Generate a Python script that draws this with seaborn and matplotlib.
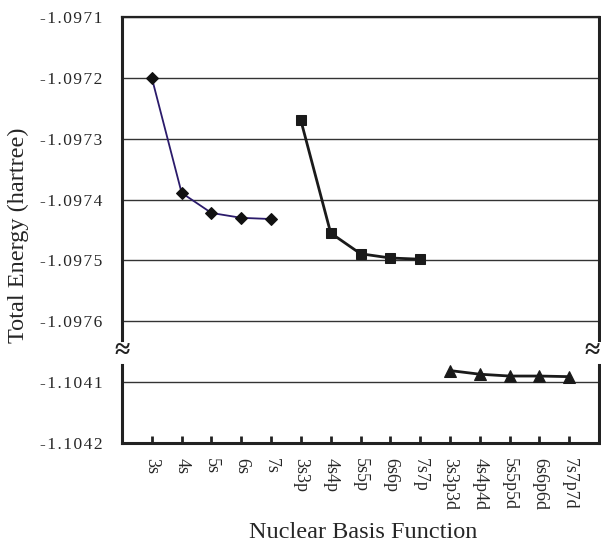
import matplotlib
matplotlib.use("Agg")
import matplotlib.pyplot as plt
import seaborn as sns
import pandas as pd

sns.set_theme(style="white")
plt.rcParams["font.family"] = ["Liberation Serif", "DejaVu Serif"]

# basis sets along the x axis
basis = ["3s", "4s", "5s", "6s", "7s",
         "3s3p", "4s4p", "5s5p", "6s6p", "7s7p",
         "3s3p3d", "4s4p4d", "5s5p5d", "6s6p6d", "7s7p7d"]

# total energies (hartree)
s_energy = [-1.097200, -1.097389, -1.097422, -1.097430, -1.097432]
sp_energy = [-1.097270, -1.097455, -1.097489, -1.097496, -1.097498]
spd_energy = [-1.104081, -1.104087, -1.104090, -1.104090, -1.104091]

upper_ticks = [-1.0976, -1.0975, -1.0974, -1.0973, -1.0972, -1.0971]
lower_ticks = [-1.1042, -1.1041]

pos = list(range(1, len(basis) + 1))
df = pd.DataFrame({
    "pos": pos,
    "basis": basis,
    "energy": s_energy + sp_energy + spd_energy,
    "group": ["s"] * 5 + ["sp"] * 5 + ["spd"] * 5,
})

HAIR = "\u200a"


def spaced(txt):
    # the original tick numbers use loose letter spacing
    return HAIR.join(txt)


fig = plt.figure(figsize=(6.01, 5.42), dpi=100)
gs = fig.add_gridspec(2, 1, height_ratios=[5.5, 1.5], hspace=0,
                      left=0.203, right=0.9967, top=0.9686, bottom=0.1827)
ax_top = fig.add_subplot(gs[0])
ax_bot = fig.add_subplot(gs[1], sharex=ax_top)

GRID = "#333333"
for ax, ticks in [(ax_top, upper_ticks), (ax_bot, lower_ticks)]:
    ax.set_yticks(ticks)
    ax.set_yticklabels([spaced(f"{t:.4f}") for t in ticks], fontsize=12.5)
    ax.tick_params(axis="y", length=0, pad=14)
    ax.grid(axis="y", color=GRID, linewidth=1.0)
    ax.grid(axis="x", visible=False)
    ax.set_axisbelow(True)
    for sp in ax.spines.values():
        sp.set_color("#222222")

sns.lineplot(data=df[df.group == "s"], x="pos", y="energy", ax=ax_top,
             color="#2B1B6B", linewidth=1.3, marker="D", markersize=6.5,
             markerfacecolor="#111111", markeredgecolor="#111111")
sns.lineplot(data=df[df.group == "sp"], x="pos", y="energy", ax=ax_top,
             color="#1a1a1a", linewidth=2.0, marker="s", markersize=7.5,
             markerfacecolor="#1a1a1a", markeredgecolor="#1a1a1a")
sns.lineplot(data=df[df.group == "spd"], x="pos", y="energy", ax=ax_bot,
             color="#1a1a1a", linewidth=2.0, marker="^", markersize=8.5,
             markerfacecolor="#1a1a1a", markeredgecolor="#1a1a1a")

ax_top.set_ylim(-1.09765, -1.0971)
ax_bot.set_ylim(-1.1042, -1.10405)
ax_top.set_xlim(0, 16)

# broken axis styling
ax_top.spines["bottom"].set_visible(False)
ax_bot.spines["top"].set_visible(False)
ax_top.spines["top"].set_linewidth(1.6)
for side in ["left", "right"]:
    ax_top.spines[side].set_linewidth(2.2)
    ax_bot.spines[side].set_linewidth(2.2)
    ax_top.spines[side].set_bounds(-1.097630, -1.0971)
    ax_bot.spines[side].set_bounds(-1.1042, -1.104072)
ax_bot.spines["bottom"].set_linewidth(2.2)

ax_top.tick_params(axis="x", bottom=False, labelbottom=False)
ax_bot.set_xticks(pos)
ax_bot.set_xticklabels(basis, rotation=-90, fontsize=13)
ax_bot.tick_params(axis="x", bottom=True, direction="in", length=5,
                   width=2, color="#222222", pad=11)

ax_top.set_xlabel("")
ax_top.set_ylabel("")
ax_bot.set_ylabel("")
ax_bot.set_xlabel("")
fig.text(363 / 601, 1 - 532 / 542, "Nuclear Basis Function",
         fontsize=17.5, ha="center", va="center")
fig.text(18 / 601, 1 - 235 / 542, "Total Energy (hartree)",
         rotation=90, fontsize=17.5, ha="center", va="center")

# break marks on both side spines
for xf in [0.203, 0.985]:
    fig.text(xf, 1 - 352 / 542, "\u2248", fontsize=20, fontweight="bold",
             ha="center", va="center", color="#222222")

fig.savefig("out.png", dpi=100)
